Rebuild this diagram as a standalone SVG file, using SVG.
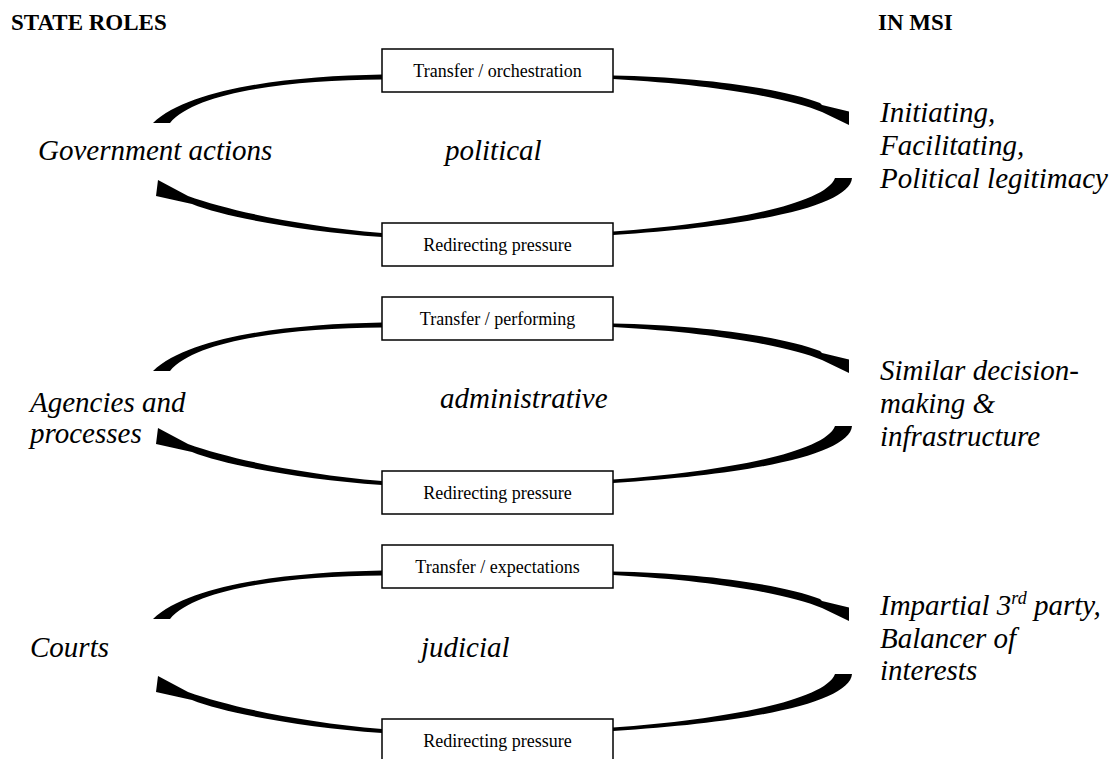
<svg xmlns="http://www.w3.org/2000/svg" xmlns:xlink="http://www.w3.org/1999/xlink" width="1118" height="759" viewBox="0 0 1118 759">
<style>
.hdr{font-family:"Liberation Serif","Times New Roman",serif;font-weight:bold;font-size:23px;fill:#000}
.it{font-family:"Liberation Serif","Times New Roman",serif;font-style:italic;font-size:29px;fill:#000}
.bx{fill:#fff;stroke:#000;stroke-width:1.5}
.bt{font-family:"Liberation Serif","Times New Roman",serif;font-size:18px;fill:#000;text-anchor:middle}
.arc{fill:#000;stroke:none}
</style>
<defs>
<path id="tl" d="M382,74.5 C290,76 190,88 153,123 L170,123 C195,92 290,80 382,79.5 Z"/>
<path id="tr" d="M613,75.5 C700,77 780,88 820,103 L822,105 L849,111.5 L849,125 L822,112 C790,99 720,85 613,79 Z"/>
<path id="br" d="M852,178 C850,205 760,226 613,235 L613,231.5 C720,224 825,205 835,178 Z"/>
<path id="bl" d="M158,180 L188,196 C230,211 300,226 382,233 L382,237 C300,231 225,217 192,204 L156,196 Z"/>
</defs>
<g id="connectors" class="arc">
<use xlink:href="#tl"/><use xlink:href="#tr"/><use xlink:href="#br"/><use xlink:href="#bl"/>
<use xlink:href="#tl" transform="translate(0,248)"/><use xlink:href="#tr" transform="translate(0,248)"/><use xlink:href="#br" transform="translate(0,248)"/><use xlink:href="#bl" transform="translate(0,248)"/>
<use xlink:href="#tl" transform="translate(0,496)"/><use xlink:href="#tr" transform="translate(0,496)"/><use xlink:href="#br" transform="translate(0,496)"/><use xlink:href="#bl" transform="translate(0,496)"/>
</g>
<g id="headers">
<text class="hdr" x="11" y="30">STATE ROLES</text>
<text class="hdr" x="878" y="30">IN MSI</text>
</g>
<g id="box-transfer-orchestration"><rect class="bx" x="382" y="49" width="231" height="43"/><text class="bt" x="497.5" y="76.5">Transfer / orchestration</text></g>
<g id="box-redirecting-1"><rect class="bx" x="382" y="223" width="231" height="43"/><text class="bt" x="497.5" y="250.5">Redirecting pressure</text></g>
<g id="box-transfer-performing"><rect class="bx" x="382" y="297" width="231" height="43"/><text class="bt" x="497.5" y="324.5">Transfer / performing</text></g>
<g id="box-redirecting-2"><rect class="bx" x="382" y="471" width="231" height="43"/><text class="bt" x="497.5" y="498.5">Redirecting pressure</text></g>
<g id="box-transfer-expectations"><rect class="bx" x="382" y="545" width="231" height="43"/><text class="bt" x="497.5" y="572.5">Transfer / expectations</text></g>
<g id="box-redirecting-3"><rect class="bx" x="382" y="719" width="231" height="43"/><text class="bt" x="497.5" y="746.5">Redirecting pressure</text></g>
<g id="government-actions"><text class="it" x="38" y="160">Government actions</text></g>
<g id="political"><text class="it" x="445" y="160">political</text></g>
<g id="msi-political"><text class="it" x="880" y="122">Initiating,</text><text class="it" x="880" y="155">Facilitating,</text><text class="it" x="880" y="188">Political legitimacy</text></g>
<g id="agencies"><text class="it" x="30" y="412">Agencies and</text><text class="it" x="30" y="443">processes</text></g>
<g id="administrative"><text class="it" x="440" y="408">administrative</text></g>
<g id="msi-administrative"><text class="it" x="880" y="380">Similar decision-</text><text class="it" x="880" y="413">making &amp;</text><text class="it" x="880" y="446">infrastructure</text></g>
<g id="courts"><text class="it" x="30" y="657">Courts</text></g>
<g id="judicial"><text class="it" x="421" y="657">judicial</text></g>
<g id="msi-judicial"><text class="it" x="880" y="615">Impartial 3<tspan font-size="18" dy="-11">rd</tspan><tspan dy="11"> party,</tspan></text><text class="it" x="880" y="648">Balancer of</text><text class="it" x="880" y="680">interests</text></g>
</svg>
